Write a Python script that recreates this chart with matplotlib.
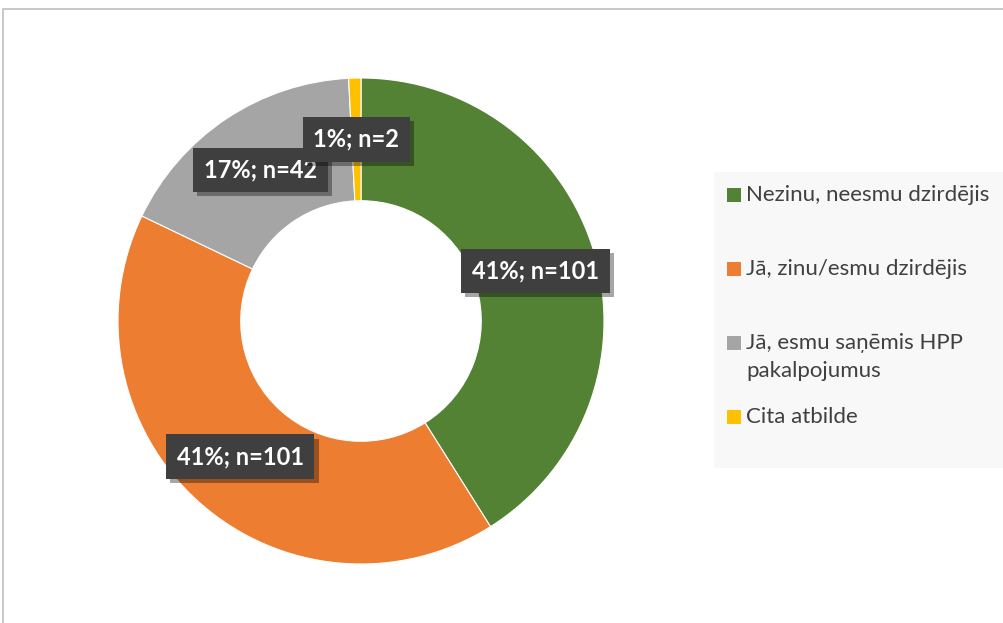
import numpy as np
import matplotlib
matplotlib.use('Agg')
import matplotlib.pyplot as plt
from matplotlib.patches import Rectangle
import matplotlib.patheffects as pe

# data
labels = ['Nezinu, neesmu dzirdējis', 'Jā, zinu/esmu dzirdējis',
          'Jā, esmu saņēmis HPP\npakalpojumus', 'Cita atbilde']
counts = [101, 101, 42, 2]
pcts = ['41%', '41%', '17%', '1%']
colors = ['#548235', '#ED7D31', '#A5A5A5', '#FFC000']

plt.rcParams['font.family'] = ['Lato', 'DejaVu Sans']

W, H = 1004, 623
fig = plt.figure(figsize=(W / 100, H / 100), dpi=100)

# chart frame
fig.patches.append(Rectangle((3 / W, -0.05), 1.1, (H - 9) / H + 0.05,
                             transform=fig.transFigure, fill=False,
                             edgecolor='#BFBFBF', linewidth=1.2))

# donut
cx, cy, R = 361, 321, 243
ax = fig.add_axes([(cx - R) / W, (H - cy - R) / H, 2 * R / W, 2 * R / H])

width = 0.505
wedges, _ = ax.pie(counts, colors=colors, startangle=90, counterclock=False,
                   radius=1, wedgeprops=dict(width=width, edgecolor='white', linewidth=0.8))
ax.set_xlim(-1, 1)
ax.set_ylim(-1, 1)
ax.axis('off')

# data labels in the middle of the ring
total = sum(counts)
start = 90.0
rmid = 1 - width / 2
for c, p in zip(counts, pcts):
    ang = np.deg2rad(start - 360 * c / total / 2)
    start -= 360 * c / total
    t = ax.text(rmid * np.cos(ang), rmid * np.sin(ang), '%s; n=%d' % (p, c),
                ha='center', va='center', color='white', fontsize=17,
                fontweight='bold',
                bbox=dict(boxstyle='square,pad=0.45', facecolor='#3F3F3F',
                          edgecolor='none'))
    t.get_bbox_patch().set_path_effects(
        [pe.SimplePatchShadow(offset=(3, -3), shadow_rgbFace='#000000', alpha=0.35),
         pe.Normal()])

# legend
fig.patches.append(Rectangle((714 / W, (H - 468) / H), 0.5, (468 - 172) / H,
                             transform=fig.transFigure, facecolor='#F8F8F8',
                             edgecolor='none'))
ys = [195, 269, 343, 417]
for lab, col, y in zip(labels, colors, ys):
    fig.patches.append(Rectangle((727 / W, (H - y - 7) / H), 14 / W, 14 / H,
                                 transform=fig.transFigure, facecolor=col,
                                 edgecolor='none'))
    fig.text(746 / W, (H - y + (10 if '\n' in lab else 0)) / H, lab, ha='left',
             va='top' if '\n' in lab else 'center',
             fontsize=16, color='#404040', linespacing=1.5,
             transform=fig.transFigure)

fig.savefig('out.png', dpi=100)
